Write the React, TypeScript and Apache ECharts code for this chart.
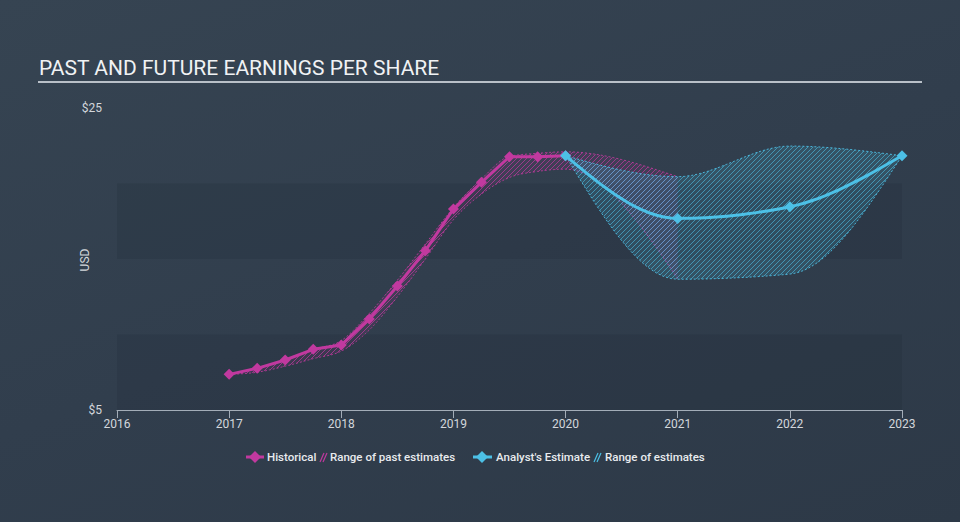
import React, { useEffect, useRef } from 'react';
import * as echarts from 'echarts';

// ---------- data ----------
const historicalX = [2017.0, 2017.25, 2017.5, 2017.75, 2018.0, 2018.25, 2018.5, 2018.75, 2019.0, 2019.25, 2019.5, 2019.75, 2020.0];
const historicalEPS = [7.36, 7.76, 8.31, 9.02, 9.3, 11.03, 13.21, 15.55, 18.31, 20.08, 21.77, 21.77, 21.84];

const pastRangeX = [2017.0, 2017.25, 2017.5, 2017.75, 2018.0, 2018.25, 2018.5, 2018.75, 2019.0, 2019.25, 2019.5, 2019.75, 2020.0, 2021.0];
const pastRangeLow = [7.36, 7.5, 7.9, 8.4, 8.9, 10.3, 12.5, 15.0, 17.6, 19.3, 20.4, 20.8, 20.95, 13.7];
const pastRangeHigh = [7.36, 7.8, 8.3, 9.0, 9.6, 11.4, 13.6, 16.0, 18.4, 20.3, 21.8, 22.0, 22.1, 20.45];

const forecastX = [2020, 2021, 2022, 2023];
const analystEPS = [21.84, 17.69, 18.46, 21.84];
const estimateLow = [21.84, 13.66, 14.0, 21.84];
const estimateHigh = [21.84, 20.45, 22.48, 21.84];

const yearTicks = [2016, 2017, 2018, 2019, 2020, 2021, 2022, 2023];
const yLabelValues = [5, 25];
const yLabelTexts = ['$5', '$25'];
const bandRanges = [[5, 10], [15, 20]];

const PINK = '#c1399f';
const BLUE = '#4cc0e6';
const FONT = 'Roboto, "Noto Sans", sans-serif';

function hatch(line: string) {
  const c = document.createElement('canvas');
  c.width = 5;
  c.height = 5;
  const ctx = c.getContext('2d')!;
  ctx.strokeStyle = line;
  ctx.lineWidth = 1;
  ctx.beginPath();
  ctx.moveTo(0, 5);
  ctx.lineTo(5, 0);
  ctx.moveTo(-1, 1);
  ctx.lineTo(1, -1);
  ctx.moveTo(4, 6);
  ctx.lineTo(6, 4);
  ctx.stroke();
  return c;
}

// Monotone-X cubic interpolation (like d3.curveMonotoneX), sampled in pixel space
function monotonePts(p: number[][], steps = 16): number[][] {
  const n = p.length;
  if (n < 2) return p.slice();
  const h: number[] = [];
  const s: number[] = [];
  for (let i = 0; i < n - 1; i++) {
    h.push(p[i + 1][0] - p[i][0]);
    s.push((p[i + 1][1] - p[i][1]) / (h[i] || 1e-9));
  }
  const m: number[] = new Array(n).fill(0);
  for (let i = 1; i < n - 1; i++) {
    const s0 = s[i - 1];
    const s1 = s[i];
    if (s0 * s1 <= 0) {
      m[i] = 0;
    } else {
      const pp = (s0 * h[i] + s1 * h[i - 1]) / (h[i - 1] + h[i]);
      m[i] = (Math.sign(s0) + Math.sign(s1)) * Math.min(Math.abs(s0), Math.abs(s1), 0.5 * Math.abs(pp));
    }
  }
  if (n === 2) {
    m[0] = s[0];
    m[1] = s[0];
  } else {
    m[0] = (3 * s[0] - m[1]) / 2;
    m[n - 1] = (3 * s[n - 2] - m[n - 2]) / 2;
  }
  const out: number[][] = [];
  for (let i = 0; i < n - 1; i++) {
    const x0 = p[i][0], y0 = p[i][1], x1 = p[i + 1][0], y1 = p[i + 1][1];
    const dx = (x1 - x0) / 3;
    const c1x = x0 + dx, c1y = y0 + m[i] * dx;
    const c2x = x1 - dx, c2y = y1 - m[i + 1] * dx;
    for (let k = i === 0 ? 0 : 1; k <= steps; k++) {
      const t = k / steps;
      const u = 1 - t;
      out.push([
        u * u * u * x0 + 3 * u * u * t * c1x + 3 * u * t * t * c2x + t * t * t * x1,
        u * u * u * y0 + 3 * u * u * t * c1y + 3 * u * t * t * c2y + t * t * t * y1,
      ]);
    }
  }
  return out;
}

function bandSeries(name: string, xs: number[], lo: number[], hi: number[], color: string, fill: string, pattern: any, z: number) {
  return {
    name,
    type: 'custom',
    z,
    silent: true,
    clip: false,
    data: xs.map((x, i) => [x, lo[i], hi[i]]),
    encode: { x: 0, y: [1, 2] },
    renderItem: (params: any, api: any) => {
      if (params.dataIndex !== 0) return null;
      const lowPx = monotonePts(xs.map((x, i) => api.coord([x, lo[i]])));
      const highPx = monotonePts(xs.map((x, i) => api.coord([x, hi[i]])));
      const poly = highPx.concat(lowPx.slice().reverse());
      return {
        type: 'group',
        children: [
          { type: 'polygon', shape: { points: poly }, style: { fill, stroke: 'none' } },
          { type: 'polygon', shape: { points: poly }, style: { fill: pattern, stroke: 'none' } },
          { type: 'polyline', shape: { points: highPx }, style: { stroke: color, lineWidth: 1, lineDash: [2, 2], fill: 'none' } },
          { type: 'polyline', shape: { points: lowPx }, style: { stroke: color, lineWidth: 1, lineDash: [2, 2], fill: 'none' } },
        ],
      };
    },
  };
}

function lineSeries(name: string, xs: number[], ys: number[], color: string, smooth: boolean, z: number) {
  return {
    name,
    type: 'custom',
    z,
    silent: true,
    clip: false,
    data: xs.map((x, i) => [x, ys[i]]),
    encode: { x: 0, y: 1 },
    renderItem: (params: any, api: any) => {
      if (params.dataIndex !== 0) return null;
      const px = xs.map((x, i) => api.coord([x, ys[i]]));
      const linePts = smooth ? monotonePts(px) : px;
      const children: any[] = [
        { type: 'polyline', shape: { points: linePts }, style: { stroke: color, lineWidth: 3, fill: 'none', lineJoin: 'round' } },
      ];
      px.forEach((q: number[]) => {
        const r = 5.5;
        children.push({
          type: 'polygon',
          shape: { points: [[q[0], q[1] - r], [q[0] + r, q[1]], [q[0], q[1] + r], [q[0] - r, q[1]]] },
          style: { fill: color },
        });
      });
      return { type: 'group', children };
    },
  };
}

function diamond(cx: number, cy: number, r: number, color: string) {
  return {
    type: 'polygon',
    shape: { points: [[cx, cy - r], [cx + r, cy], [cx, cy + r], [cx - r, cy]] },
    style: { fill: color },
  };
}

function hatchIcon(x: number, y: number, color: string) {
  return {
    type: 'group',
    children: [
      { type: 'line', shape: { x1: x, y1: y + 5, x2: x + 4, y2: y - 4 }, style: { stroke: color, lineWidth: 1.2 } },
      { type: 'line', shape: { x1: x + 3, y1: y + 5, x2: x + 7, y2: y - 4 }, style: { stroke: color, lineWidth: 1.2 } },
    ],
  };
}

export default function App() {
  const ref = useRef<HTMLDivElement>(null);

  useEffect(() => {
    if (!ref.current) return;
    const chart = echarts.init(ref.current, undefined, { renderer: 'svg' });

    const pinkPattern = { image: hatch('rgba(193,57,159,0.7)'), repeat: 'repeat' };
    const bluePattern = { image: hatch('rgba(76,192,230,0.6)'), repeat: 'repeat' };

    const legendY = 457;
    const legendText = (x: number, text: string) => ({
      type: 'text',
      x,
      y: legendY,
      style: { text, fill: '#e8ebee', fontSize: 11.5, fontFamily: FONT, verticalAlign: 'middle', fontWeight: 500 },
    });

    const option: any = {
      animation: false,
      backgroundColor: 'transparent',
      textStyle: { fontFamily: FONT },
      grid: { left: 117, right: 58, top: 108, bottom: 112 },
      xAxis: {
        type: 'value',
        min: yearTicks[0],
        max: yearTicks[yearTicks.length - 1],
        interval: 1,
        axisLine: { show: true, lineStyle: { color: '#a3adb8', width: 1 } },
        axisTick: { show: true, length: 8, lineStyle: { color: '#a3adb8' } },
        axisLabel: { color: '#d3d7dc', fontSize: 12, margin: 8, fontFamily: FONT, formatter: (v: number) => String(Math.round(v)) },
        splitLine: { show: false },
      },
      yAxis: {
        type: 'value',
        min: 5,
        max: 25,
        interval: 5,
        axisLine: { show: false },
        axisTick: { show: false },
        splitLine: { show: false },
        axisLabel: {
          color: '#d3d7dc',
          fontSize: 12,
          margin: 15,
          fontFamily: FONT,
          formatter: (v: number) => {
            const i = yLabelValues.indexOf(v);
            return i >= 0 ? yLabelTexts[i] : '';
          },
        },
      },
      series: [
        {
          name: 'bands',
          type: 'line',
          data: [],
          silent: true,
          z: 0,
          markArea: {
            silent: true,
            itemStyle: { color: 'rgba(10,18,28,0.10)' },
            data: bandRanges.map((r) => [{ yAxis: r[0] }, { yAxis: r[1] }]),
          },
        },
        bandSeries('Range of past estimates', pastRangeX, pastRangeLow, pastRangeHigh, 'rgba(193,57,159,0.85)', 'rgba(193,57,159,0.10)', pinkPattern, 1),
        bandSeries('Range of estimates', forecastX, estimateLow, estimateHigh, 'rgba(76,192,230,0.9)', 'rgba(76,192,230,0.16)', bluePattern, 2),
        lineSeries('Historical', historicalX, historicalEPS, PINK, false, 5),
        lineSeries("Analyst's Estimate", forecastX, analystEPS, BLUE, true, 6),
      ],
      graphic: [
        {
          type: 'text',
          left: 39,
          top: 57,
          style: { text: 'PAST AND FUTURE EARNINGS PER SHARE', fill: '#f0f2f4', fontSize: 21, fontFamily: FONT },
        },
        {
          type: 'line',
          shape: { x1: 38, y1: 82, x2: 922, y2: 82 },
          style: { stroke: '#b9c0c8', lineWidth: 2 },
        },
        {
          type: 'text',
          x: 85,
          y: 260,
          rotation: Math.PI / 2,
          style: { text: 'USD', fill: '#d3d7dc', fontSize: 12, fontFamily: FONT, align: 'center', verticalAlign: 'middle' },
        },
        { type: 'line', shape: { x1: 246, y1: legendY, x2: 264, y2: legendY }, style: { stroke: PINK, lineWidth: 3 } },
        diamond(255, legendY, 6, PINK),
        legendText(267, 'Historical'),
        hatchIcon(320, legendY, PINK),
        legendText(330, 'Range of past estimates'),
        { type: 'line', shape: { x1: 473, y1: legendY, x2: 492, y2: legendY }, style: { stroke: BLUE, lineWidth: 3 } },
        diamond(482, legendY, 6, BLUE),
        legendText(496, "Analyst's Estimate"),
        hatchIcon(594, legendY, BLUE),
        legendText(605, 'Range of estimates'),
      ],
    };

    chart.setOption(option);
    return () => chart.dispose();
  }, []);

  return (
    <div
      style={{
        position: 'fixed',
        left: 0,
        top: 0,
        width: 960,
        height: 522,
        background: 'linear-gradient(160deg, #364452 0%, #313e4d 50%, #2d3947 100%)',
      }}
    >
      <div ref={ref} style={{ width: 960, height: 522 }} />
    </div>
  );
}
